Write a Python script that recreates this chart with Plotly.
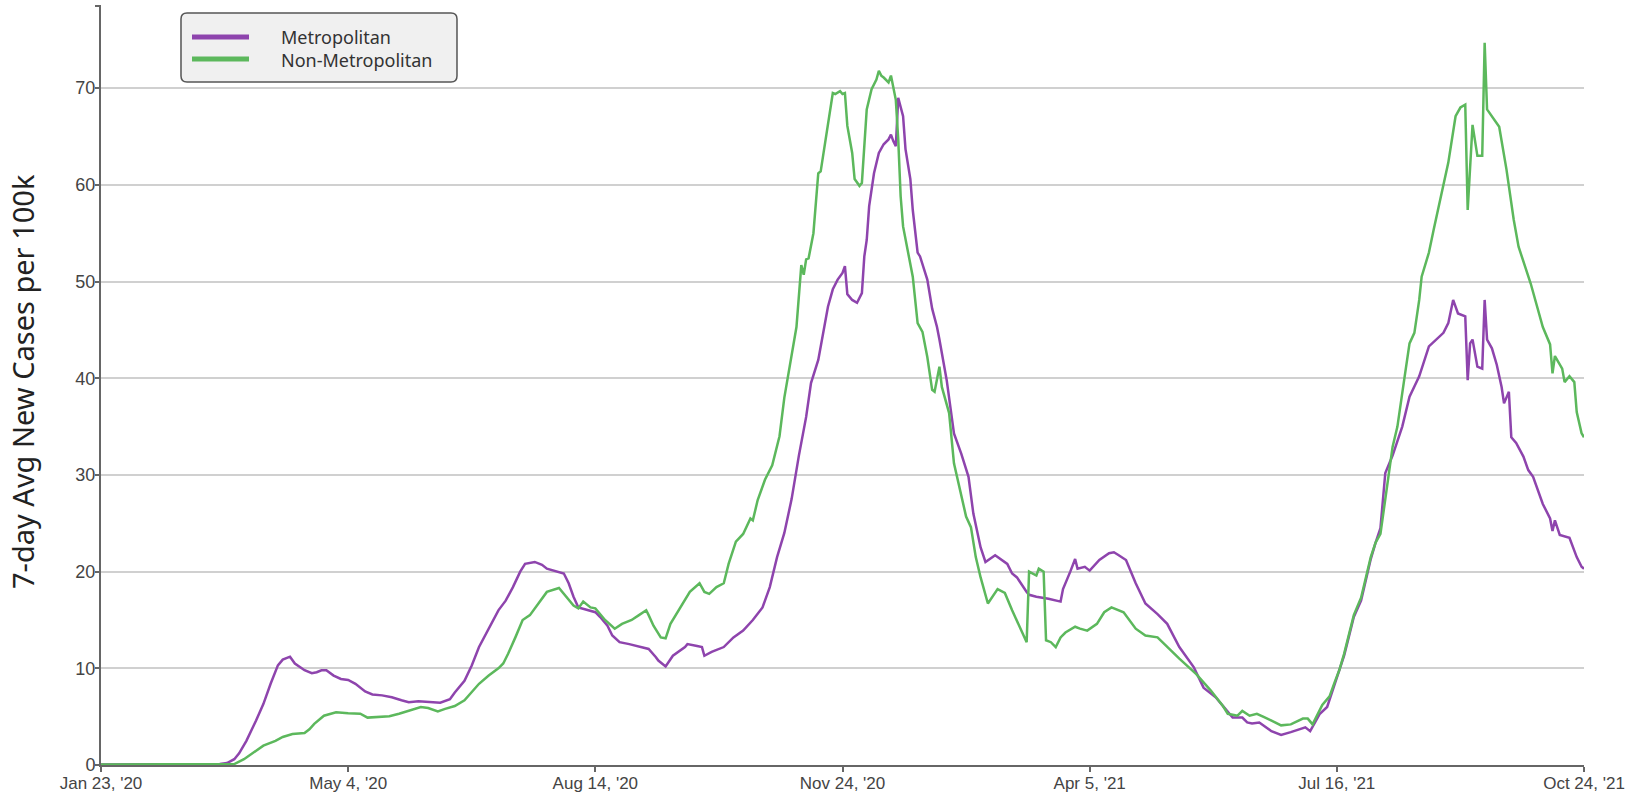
import plotly.graph_objects as go

# ---------------- data ----------------
tick_idx = [0, 102, 204, 306, 408, 510, 612]
tick_labels = ["Jan 23, '20", "May 4, '20", "Aug 14, '20", "Nov 24, '20",
               "Apr 5, '21", "Jul 16, '21", "Oct 24, '21"]

metro_x = [0, 20, 40, 49, 52, 55, 57, 60, 64, 67, 70, 73, 75, 78, 80, 84, 87, 89, 91, 93, 96, 99,
           102, 105, 109, 112, 116, 120, 124, 127, 131, 135, 140, 144, 146, 150, 153, 156, 159, 162,
           164, 167, 170, 173, 175, 179, 182, 184, 188, 191, 193, 195, 197, 201, 204, 206, 209, 211,
           214, 218, 222, 226, 229, 230, 233, 236, 241, 242, 246, 248, 249, 252, 257, 261, 265, 269,
           273, 276, 279, 282, 285, 288, 291, 293, 296, 298, 300, 302, 304, 306, 307, 308, 310, 312,
           314, 315, 316, 317, 319, 321, 323, 325, 326, 327, 328, 329, 331, 332, 334, 335, 337, 338,
           341, 343, 345, 346, 349, 352, 355, 358, 360, 363, 365, 369, 374, 376, 378, 382, 383, 386,
           391, 396, 397, 400, 402, 403, 406, 408, 412, 416, 418, 420, 423, 427, 431, 436, 440, 445,
           451, 455, 460, 464, 467, 471, 473, 475, 478, 483, 487, 491, 497, 499, 503, 506, 509, 511,
           513, 515, 517, 520, 522, 524, 526, 528, 530, 533, 535, 537, 540, 544, 548, 554, 556, 558,
           560, 563, 564, 565, 566, 568, 570, 571, 572, 574, 576, 578, 579, 581, 582, 584, 587, 589,
           591, 593, 595, 598, 599, 600, 602, 606, 609, 611, 612]
metro_y = [0.05, 0.05, 0.08, 0.1, 0.2, 0.6, 1.2, 2.5, 4.6, 6.3, 8.4, 10.3, 10.9, 11.2, 10.5, 9.8, 9.5,
           9.6, 9.8, 9.8, 9.25, 8.9, 8.8, 8.4, 7.6, 7.3, 7.2, 7.0, 6.7, 6.5, 6.6, 6.5, 6.45, 6.8, 7.5,
           8.7, 10.3, 12.2, 13.6, 15.0, 16.0, 17.0, 18.4, 20.0, 20.8, 21.0, 20.7, 20.3, 20.0, 19.8,
           18.8, 17.4, 16.3, 16.0, 15.8, 15.3, 14.4, 13.4, 12.7, 12.5, 12.25, 12.0, 11.15, 10.8, 10.2,
           11.3, 12.2, 12.5, 12.3, 12.2, 11.3, 11.7, 12.2, 13.2, 13.9, 15.0, 16.3, 18.4, 21.5, 24.0,
           27.5, 32.0, 36.0, 39.5, 41.9, 44.7, 47.4, 49.2, 50.2, 50.9, 51.6, 48.7, 48.1, 47.8, 48.8,
           52.6, 54.3, 57.8, 61.2, 63.3, 64.2, 64.7, 65.2, 64.5, 64.0, 69.0, 67.1, 63.7, 60.6, 57.4,
           53.0, 52.6, 50.2, 47.2, 45.3, 44.0, 39.8, 34.3, 32.2, 29.8, 26.0, 22.5, 21.0, 21.7, 20.8,
           19.8, 19.4, 17.9, 17.6, 17.4, 17.2, 16.9, 18.2, 20.0, 21.3, 20.3, 20.5, 20.1, 21.2, 21.9,
           22.0, 21.7, 21.2, 18.8, 16.7, 15.6, 14.6, 12.2, 10.1, 8.0, 7.0, 5.8, 4.9, 4.9, 4.4, 4.3,
           4.4, 3.5, 3.1, 3.4, 3.9, 3.5, 5.3, 6.0, 8.3, 9.6, 11.3, 13.3, 15.3, 17.0, 19.3, 21.3, 23.0,
           24.5, 30.2, 32.0, 33.5, 35.0, 38.1, 40.2, 43.3, 44.7, 45.7, 48.1, 46.7, 46.4, 39.8, 43.6,
           44.0, 41.2, 41.0, 48.1, 44.0, 43.1, 41.4, 39.1, 37.4, 38.6, 33.9, 33.3, 31.9, 30.5, 29.8,
           28.3, 27.0, 25.5, 24.2, 25.3, 23.8, 23.5, 21.5, 20.5, 20.3]

nonmetro_x = [0, 20, 40, 50, 55, 59, 63, 67, 72, 75, 79, 84, 86, 88, 92, 97, 102, 107, 110, 115, 119,
              123, 127, 132, 135, 139, 142, 146, 150, 153, 156, 160, 164, 166, 168, 171, 174, 177, 180,
              184, 189, 192, 195, 197, 199, 202, 204, 208, 212, 215, 219, 222, 225, 226, 228, 231, 233,
              235, 239, 243, 247, 249, 251, 254, 257, 259, 262, 265, 268, 269, 271, 274, 277, 280, 282,
              285, 287, 289, 290, 291, 292, 294, 295, 296, 297, 299, 301, 302, 303, 305, 306, 307, 308,
              310, 311, 313, 314, 315, 316, 318, 320, 321, 322, 323, 325, 326, 327, 328, 329, 330, 331,
              333, 335, 337, 339, 341, 343, 344, 346, 347, 350, 352, 355, 357, 359, 361, 363, 365, 366,
              370, 373, 376, 379, 382, 383, 386, 387, 389, 390, 392, 394, 396, 398, 402, 404, 407, 411,
              414, 417, 422, 427, 431, 436, 440, 445, 452, 458, 463, 465, 469, 471, 474, 477, 480, 487,
              491, 496, 498, 500, 504, 507, 509, 511, 513, 515, 517, 520, 522, 524, 526, 528, 533, 535,
              538, 540, 542, 544, 545, 548, 550, 554, 556, 559, 561, 563, 564, 566, 568, 570, 571, 572,
              574, 577, 580, 583, 585, 590, 595, 598, 599, 600, 603, 604, 606, 608, 609, 611, 612]
nonmetro_y = [0.05, 0.05, 0.05, 0.08, 0.1, 0.6, 1.3, 2.0, 2.5, 2.9, 3.2, 3.3, 3.7, 4.25, 5.1, 5.45,
              5.35, 5.3, 4.9, 5.0, 5.05, 5.3, 5.6, 6.0, 5.9, 5.55, 5.8, 6.1, 6.7, 7.5, 8.4, 9.25, 10.0,
              10.5, 11.5, 13.2, 15.0, 15.5, 16.5, 17.9, 18.3, 17.4, 16.5, 16.2, 16.9, 16.3, 16.2, 15.0,
              14.1, 14.6, 15.0, 15.5, 16.0, 15.5, 14.4, 13.2, 13.1, 14.6, 16.3, 17.9, 18.8, 17.9, 17.7,
              18.4, 18.8, 20.8, 23.1, 23.9, 25.5, 25.3, 27.4, 29.5, 31.0, 34.0, 38.0, 42.6, 45.3, 51.7,
              50.7, 52.3, 52.4, 55.0, 57.8, 61.2, 61.4, 64.7, 67.5, 69.5, 69.4, 69.7, 69.4, 69.5, 66.1,
              63.3, 60.6, 59.9, 60.2, 63.7, 67.8, 69.9, 70.9, 71.8, 71.3, 71.1, 70.6, 71.3, 70.2, 68.8,
              64.7, 58.8, 55.7, 53.0, 50.5, 45.7, 44.8, 42.2, 38.8, 38.6, 41.2, 39.1, 36.4, 31.2, 28.0,
              25.7, 24.6, 21.5, 19.4, 17.7, 16.7, 18.2, 17.8, 16.0, 14.3, 12.7, 20.0, 19.6, 20.3, 20.0,
              12.9, 12.7, 12.2, 13.2, 13.7, 14.3, 14.1, 13.9, 14.6, 15.8, 16.3, 15.8, 14.1, 13.4, 13.2,
              12.2, 11.0, 9.4, 7.7, 6.1, 5.3, 5.1, 5.6, 5.1, 5.3, 4.95, 4.1, 4.2, 4.8, 4.8, 4.2, 6.2,
              7.1, 8.5, 9.8, 11.5, 13.5, 15.5, 17.3, 19.5, 21.5, 23.0, 23.9, 32.9, 35.0, 40.2, 43.6,
              44.7, 48.1, 50.5, 53.0, 55.4, 59.9, 62.3, 67.1, 68.0, 68.3, 57.4, 66.2, 63.0, 63.0, 74.7,
              67.8, 67.1, 66.0, 61.6, 56.4, 53.6, 49.8, 45.3, 43.5, 40.5, 42.3, 41.0, 39.6, 40.2, 39.6,
              36.5, 34.3, 33.9]

y_ticks = [0, 10, 20, 30, 40, 50, 60, 70]
series_names = ["Metropolitan", "Non-Metropolitan"]
y_title = "7-day Avg New Cases per 100k"

# ---------------- style ----------------
PURPLE = "#8e44ad"
GREEN = "#5cb85c"
FIG_W, FIG_H = 1633, 796
ML, MR, MT, MB = 101, 49, 6, 31
PW = FIG_W - ML - MR
PH = FIG_H - MT - MB


def pxx(X):
    return (X - ML) / PW


def pxy(Y):
    return (FIG_H - MB - Y) / PH


fig = go.Figure()
fig.add_trace(go.Scatter(x=metro_x, y=metro_y, mode="lines", name=series_names[0],
                         line=dict(color=PURPLE, width=2.5), showlegend=False))
fig.add_trace(go.Scatter(x=nonmetro_x, y=nonmetro_y, mode="lines", name=series_names[1],
                         line=dict(color=GREEN, width=2.5), showlegend=False))

# rounded legend box
x0, x1, y0, y1, r = 181, 457, 13, 82, 6
pts = [
    ("M", x0 + r, y0), ("L", x1 - r, y0), ("Q", x1, y0, x1, y0 + r), ("L", x1, y1 - r),
    ("Q", x1, y1, x1 - r, y1), ("L", x0 + r, y1), ("Q", x0, y1, x0, y1 - r), ("L", x0, y0 + r),
    ("Q", x0, y0, x0 + r, y0),
]
path = ""
for p in pts:
    cmd = p[0]
    coords = p[1:]
    s = []
    for i in range(0, len(coords), 2):
        s.append(f"{pxx(coords[i]):.5f},{pxy(coords[i+1]):.5f}")
    path += cmd + " " + " ".join(s) + " "
path += "Z"

shapes = [
    dict(type="path", xref="paper", yref="paper", path=path,
         fillcolor="#f0f0f0", line=dict(color="#555555", width=1.5), layer="above"),
    dict(type="line", xref="paper", yref="paper", x0=pxx(192), x1=pxx(249), y0=pxy(37), y1=pxy(37),
         line=dict(color=PURPLE, width=5)),
    dict(type="line", xref="paper", yref="paper", x0=pxx(192), x1=pxx(249), y0=pxy(59), y1=pxy(59),
         line=dict(color=GREEN, width=5)),
    dict(type="line", xref="paper", yref="paper", x0=pxx(95), x1=pxx(101), y0=1, y1=1,
         line=dict(color="#666666", width=2)),
]

annotations = [
    dict(text=series_names[0] + "<br>" + series_names[1], xref="paper", yref="paper",
         x=pxx(279), y=pxy(48), xanchor="left", yanchor="middle", align="left",
         showarrow=False, font=dict(family="Noto Sans", size=18, color="#333333")),
    dict(text=y_title, xref="paper", yref="paper", x=pxx(22), y=pxy(382), xanchor="center",
         yanchor="middle", textangle=-90, showarrow=False,
         font=dict(family="Noto Sans", size=29, color="#222222")),
]

fig.update_layout(
    width=FIG_W, height=FIG_H,
    margin=dict(l=ML, r=MR, t=MT, b=MB, pad=0),
    paper_bgcolor="white", plot_bgcolor="white",
    showlegend=False,
    shapes=shapes, annotations=annotations,
    xaxis=dict(range=[0, 612], tickvals=tick_idx, ticktext=tick_labels, showgrid=False,
               zeroline=False, showline=True, linecolor="#666666", linewidth=2,
               ticks="outside", ticklen=5, tickcolor="#666666", tickwidth=1.5,
               ticklabelstandoff=-3,
               tickfont=dict(family="Liberation Sans", size=17, color="#444444"),
               automargin=False),
    yaxis=dict(range=[0, 78.5], tickvals=y_ticks, showgrid=True, gridcolor="#d0d0d0", gridwidth=2,
               zeroline=False, showline=True, linecolor="#666666", linewidth=2,
               ticks="outside", ticklen=4, tickcolor="#666666", tickwidth=1.5,
               ticklabelstandoff=-4,
               tickfont=dict(family="Liberation Sans", size=18, color="#444444"),
               automargin=False),
)

fig.write_html("out.html", config={"displayModeBar": False},
               post_script="document.body.style.margin='0';document.body.style.overflow='hidden';")
